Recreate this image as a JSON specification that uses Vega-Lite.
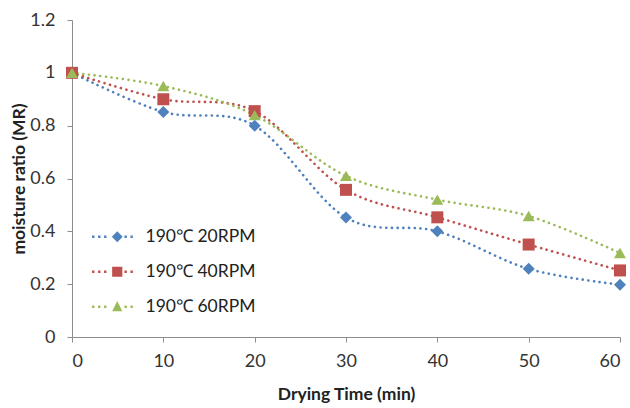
{
  "$schema": "https://vega.github.io/schema/vega-lite/v6.json",
  "width": 548,
  "height": 317,
  "autosize": {"type": "none"},
  "padding": {"left": 72, "top": 20, "right": 10, "bottom": 71},
  "background": "white",
  "config": {
    "view": {"stroke": null},
    "font": "Lato",
    "axis": {
      "grid": false,
      "domainColor": "#8c8c8c",
      "tickColor": "#8c8c8c",
      "tickSize": 5,
      "labelFontSize": 18,
      "labelColor": "#333333",
      "titleFontSize": 17.5,
      "titleFontWeight": "bold",
      "titleColor": "#222222",
      "labelFont": "Lato",
      "titleFont": "Lato"
    }
  },
  "data": {
    "values": [
      {"t": 0, "mr": 1.0, "s": "190℃ 20RPM"},
      {"t": 10, "mr": 0.852, "s": "190℃ 20RPM"},
      {"t": 20, "mr": 0.8, "s": "190℃ 20RPM"},
      {"t": 30, "mr": 0.452, "s": "190℃ 20RPM"},
      {"t": 40, "mr": 0.4, "s": "190℃ 20RPM"},
      {"t": 50, "mr": 0.258, "s": "190℃ 20RPM"},
      {"t": 60, "mr": 0.198, "s": "190℃ 20RPM"},
      {"t": 0, "mr": 1.0, "s": "190℃ 40RPM"},
      {"t": 10, "mr": 0.9, "s": "190℃ 40RPM"},
      {"t": 20, "mr": 0.855, "s": "190℃ 40RPM"},
      {"t": 30, "mr": 0.557, "s": "190℃ 40RPM"},
      {"t": 40, "mr": 0.453, "s": "190℃ 40RPM"},
      {"t": 50, "mr": 0.35, "s": "190℃ 40RPM"},
      {"t": 60, "mr": 0.252, "s": "190℃ 40RPM"},
      {"t": 0, "mr": 1.0, "s": "190℃ 60RPM"},
      {"t": 10, "mr": 0.95, "s": "190℃ 60RPM"},
      {"t": 20, "mr": 0.84, "s": "190℃ 60RPM"},
      {"t": 30, "mr": 0.61, "s": "190℃ 60RPM"},
      {"t": 40, "mr": 0.52, "s": "190℃ 60RPM"},
      {"t": 50, "mr": 0.458, "s": "190℃ 60RPM"},
      {"t": 60, "mr": 0.318, "s": "190℃ 60RPM"}
    ]
  },
  "encoding": {
    "x": {
      "field": "t",
      "type": "quantitative",
      "title": "Drying Time (min)",
      "scale": {"domain": [0, 60], "nice": false},
      "axis": {"values": [0, 10, 20, 30, 40, 50, 60], "labelPadding": 10, "titlePadding": 15}
    },
    "y": {
      "field": "mr",
      "type": "quantitative",
      "title": "moisture ratio (MR)",
      "scale": {"domain": [0, 1.2], "nice": false},
      "axis": {"values": [0, 0.2, 0.4, 0.6, 0.8, 1, 1.2], "format": "~g", "labelPadding": 12, "titlePadding": 1}
    },
    "color": {
      "field": "s",
      "type": "nominal",
      "scale": {"domain": ["190℃ 20RPM", "190℃ 40RPM", "190℃ 60RPM"], "range": ["#4f81bd", "#c0504d", "#9bbb59"]},
      "legend": {
        "title": null,
        "orient": "none",
        "legendX": 36.5,
        "legendY": 208,
        "padding": 0,
        "symbolSize": 144,
        "symbolOffset": 0,
        "symbolStrokeWidth": 0,
        "labelFontSize": 17.5,
        "labelColor": "#222222",
        "labelOffset": 19.5,
        "rowPadding": 16,
        "encode": {
          "symbols": {
            "update": {
              "strokeWidth": {"value": 0},
              "shape": {"signal": "datum.value === '190℃ 20RPM' ? 'M-4.2,-0.2H-3.8V0.2H-4.2ZM-3.2,-0.2H-2.8V0.2H-3.2ZM-2.2,-0.2H-1.8V0.2H-2.2ZM1.2,-0.2H1.6V0.2H1.2ZM2.2,-0.2H2.6V0.2H2.2ZM0,-0.9L0.9,0L0,0.9L-0.9,0Z' : datum.value === '190℃ 40RPM' ? 'M-4.2,-0.2H-3.8V0.2H-4.2ZM-3.2,-0.2H-2.8V0.2H-3.2ZM-2.2,-0.2H-1.8V0.2H-2.2ZM1.2,-0.2H1.6V0.2H1.2ZM2.2,-0.2H2.6V0.2H2.2ZM-0.85,-0.85H0.85V0.85H-0.85Z' : 'M-4.2,-0.2H-3.8V0.2H-4.2ZM-3.2,-0.2H-2.8V0.2H-3.2ZM-2.2,-0.2H-1.8V0.2H-2.2ZM1.2,-0.2H1.6V0.2H1.2ZM2.2,-0.2H2.6V0.2H2.2ZM0,-0.95L0.85,0.75L-0.85,0.75Z'"}
            }
          }
        }
      }
    }
  },
  "layer": [
    {
      "mark": {"type": "line", "interpolate": "cardinal", "strokeDash": [0.1, 5.6], "strokeCap": "round", "strokeWidth": 2.6}
    },
    {
      "transform": [{"filter": "datum.s === '190℃ 20RPM'"}],
      "mark": {"type": "point", "filled": true, "shape": "diamond", "size": 144, "opacity": 1}
    },
    {
      "transform": [{"filter": "datum.s === '190℃ 40RPM'"}],
      "mark": {"type": "point", "filled": true, "shape": "square", "size": 144, "opacity": 1}
    },
    {
      "transform": [{"filter": "datum.s === '190℃ 60RPM'"}],
      "mark": {"type": "point", "filled": true, "shape": "triangle-up", "size": 144, "opacity": 1}
    }
  ]
}
